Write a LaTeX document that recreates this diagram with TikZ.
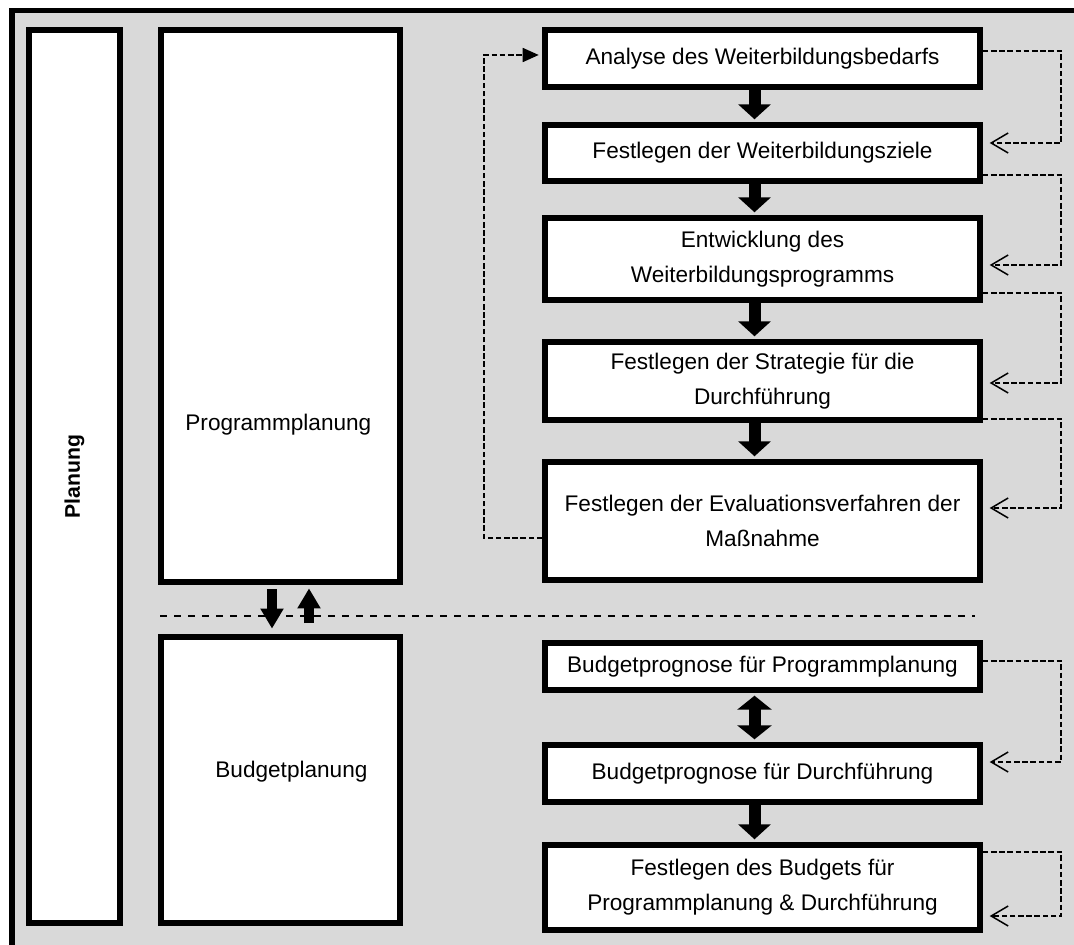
\documentclass[tikz,border=0pt]{standalone}
\usepackage{fontspec}
\setmainfont{Liberation Sans}
\usetikzlibrary{arrows.meta}
\definecolor{bggray}{HTML}{D9D9D9}
\tikzset{
  stepbox/.style={draw, line width=2.7pt, fill=white, align=center, minimum width=217.5pt, inner sep=2pt},
  panel/.style={draw, line width=2.8pt, fill=white},
  blockarrow/.style={line width=6pt, -{Triangle[length=7.5pt,width=16pt]}, shorten >=1.5pt},
  updown/.style={line width=5pt, -{Triangle[length=10pt,width=11pt]}},
  fb/.style={line width=0.85pt, dash pattern=on 2.8pt off 1.3pt, shorten >=3.5pt,
    -{Straight Barb[length=8.5pt,width=10pt,line width=0.75pt]}},
  fbl/.style={line width=0.85pt, dash pattern=on 2.8pt off 1.3pt, shorten >=1.8pt,
    -{Triangle[length=8pt,width=7pt]}},
  sepline/.style={line width=0.9pt, dash pattern=on 3.5pt off 3.5pt},
  lefttext/.style={anchor=west, inner sep=0pt}
}
\begin{document}
\begin{tikzpicture}[x=0.5pt,y=-0.5pt,font=\fontsize{11.3}{17.5}\selectfont]
\useasboundingbox (0,0) rectangle (1074,945);
\fill[bggray] (10,9) rectangle (1074,945);
\draw[line width=2.8pt] (12,945) -- (12,10.5) -- (1074,10.5);

% left column
\node[panel, rotate=90, minimum width=446.5pt, minimum height=45.5pt, font=\fontsize{10.6}{14}\selectfont\bfseries] (plan) at (74.5,476.5) {Planung};
\node[panel, minimum width=119.5pt, minimum height=276pt] (prog) at (280.5,306) {};
\node[lefttext] (progt) at (185,425) {Programmplanung};
\node[panel, minimum width=119.5pt, minimum height=143pt] (budg) at (280.5,780) {};
\node[lefttext] (budgt) at (215,772) {Budgetplanung};
\draw[updown, shorten <=2.2pt, shorten >=2.8pt] ([xshift=-4.25pt]prog.south) -- ([xshift=-4.25pt]budg.north);
\draw[updown, shorten <=5.5pt, shorten >=1.8pt] ([xshift=14.25pt]budg.north) -- ([xshift=14.25pt]prog.south);

\draw[sepline] (160,616) -- (975,616);

% Programmplanung
\node[stepbox, minimum height=28.5pt] (bedarf) at (762.5,58.5) {Analyse des Weiterbildungsbedarfs};
\node[stepbox, minimum height=28pt] (ziele) at (762.5,153) {Festlegen der Weiterbildungsziele};
\draw[blockarrow] ([xshift=-4pt]bedarf.south) -- ([xshift=-4pt]ziele.north);
\node[stepbox, minimum height=41pt] (progr) at (762.5,259) {Entwicklung des\\Weiterbildungsprogramms};
\draw[blockarrow] ([xshift=-4pt]ziele.south) -- ([xshift=-4pt]progr.north);
\node[stepbox, minimum height=39pt] (strat) at (762.5,381) {Festlegen der Strategie für die\\Durchführung};
\draw[blockarrow] ([xshift=-4pt]progr.south) -- ([xshift=-4pt]strat.north);
\node[stepbox, minimum height=59pt] (eval) at (762.5,521) {Festlegen der Evaluationsverfahren der\\Maßnahme};
\draw[blockarrow] ([xshift=-4pt]strat.south) -- ([xshift=-4pt]eval.north);

\draw[fb] ([yshift=3.75pt]bedarf.east) -- ++(39.3pt,0) |- ([yshift=5pt]ziele.east);
\draw[fb] ([yshift=-11pt]ziele.east) -- ++(39.3pt,0) |- ([yshift=-3pt]progr.east);
\draw[fb] ([yshift=-17pt]progr.east) -- ++(39.3pt,0) |- ([yshift=-1pt]strat.east);
\draw[fb] ([yshift=-19pt]strat.east) -- ++(39.3pt,0) |- ([yshift=6.5pt]eval.east);
\draw[fbl] ([yshift=-8.5pt]eval.west) -- ++(-29.3pt,0) |- ([yshift=1.75pt]bedarf.west);

% Budgetplanung
\node[stepbox, minimum height=23.5pt] (bprog) at (762.5,666.5) {Budgetprognose für Programmplanung};
\node[stepbox, minimum height=28.5pt] (bdurch) at (762.5,773.5) {Budgetprognose für Durchführung};
\draw[line width=6pt, {Triangle[length=7pt,width=17pt]}-{Triangle[length=7pt,width=17pt]}, shorten <=1.5pt, shorten >=1.5pt] ([xshift=-4pt]bprog.south) -- ([xshift=-4pt]bdurch.north);
\node[stepbox, minimum height=42.5pt] (budget) at (762.5,887.5) {Festlegen des Budgets für\\Programmplanung \& Durchführung};
\draw[blockarrow] ([xshift=-4pt]bdurch.south) -- ([xshift=-4pt]budget.north);

\draw[fb] ([yshift=2.75pt]bprog.east) -- ++(39.3pt,0) |- ([yshift=5.75pt]bdurch.east);
\draw[fb] ([yshift=17.75pt]budget.east) -- ++(39.3pt,0) |- ([yshift=-14.25pt]budget.east);

\end{tikzpicture}
\end{document}
